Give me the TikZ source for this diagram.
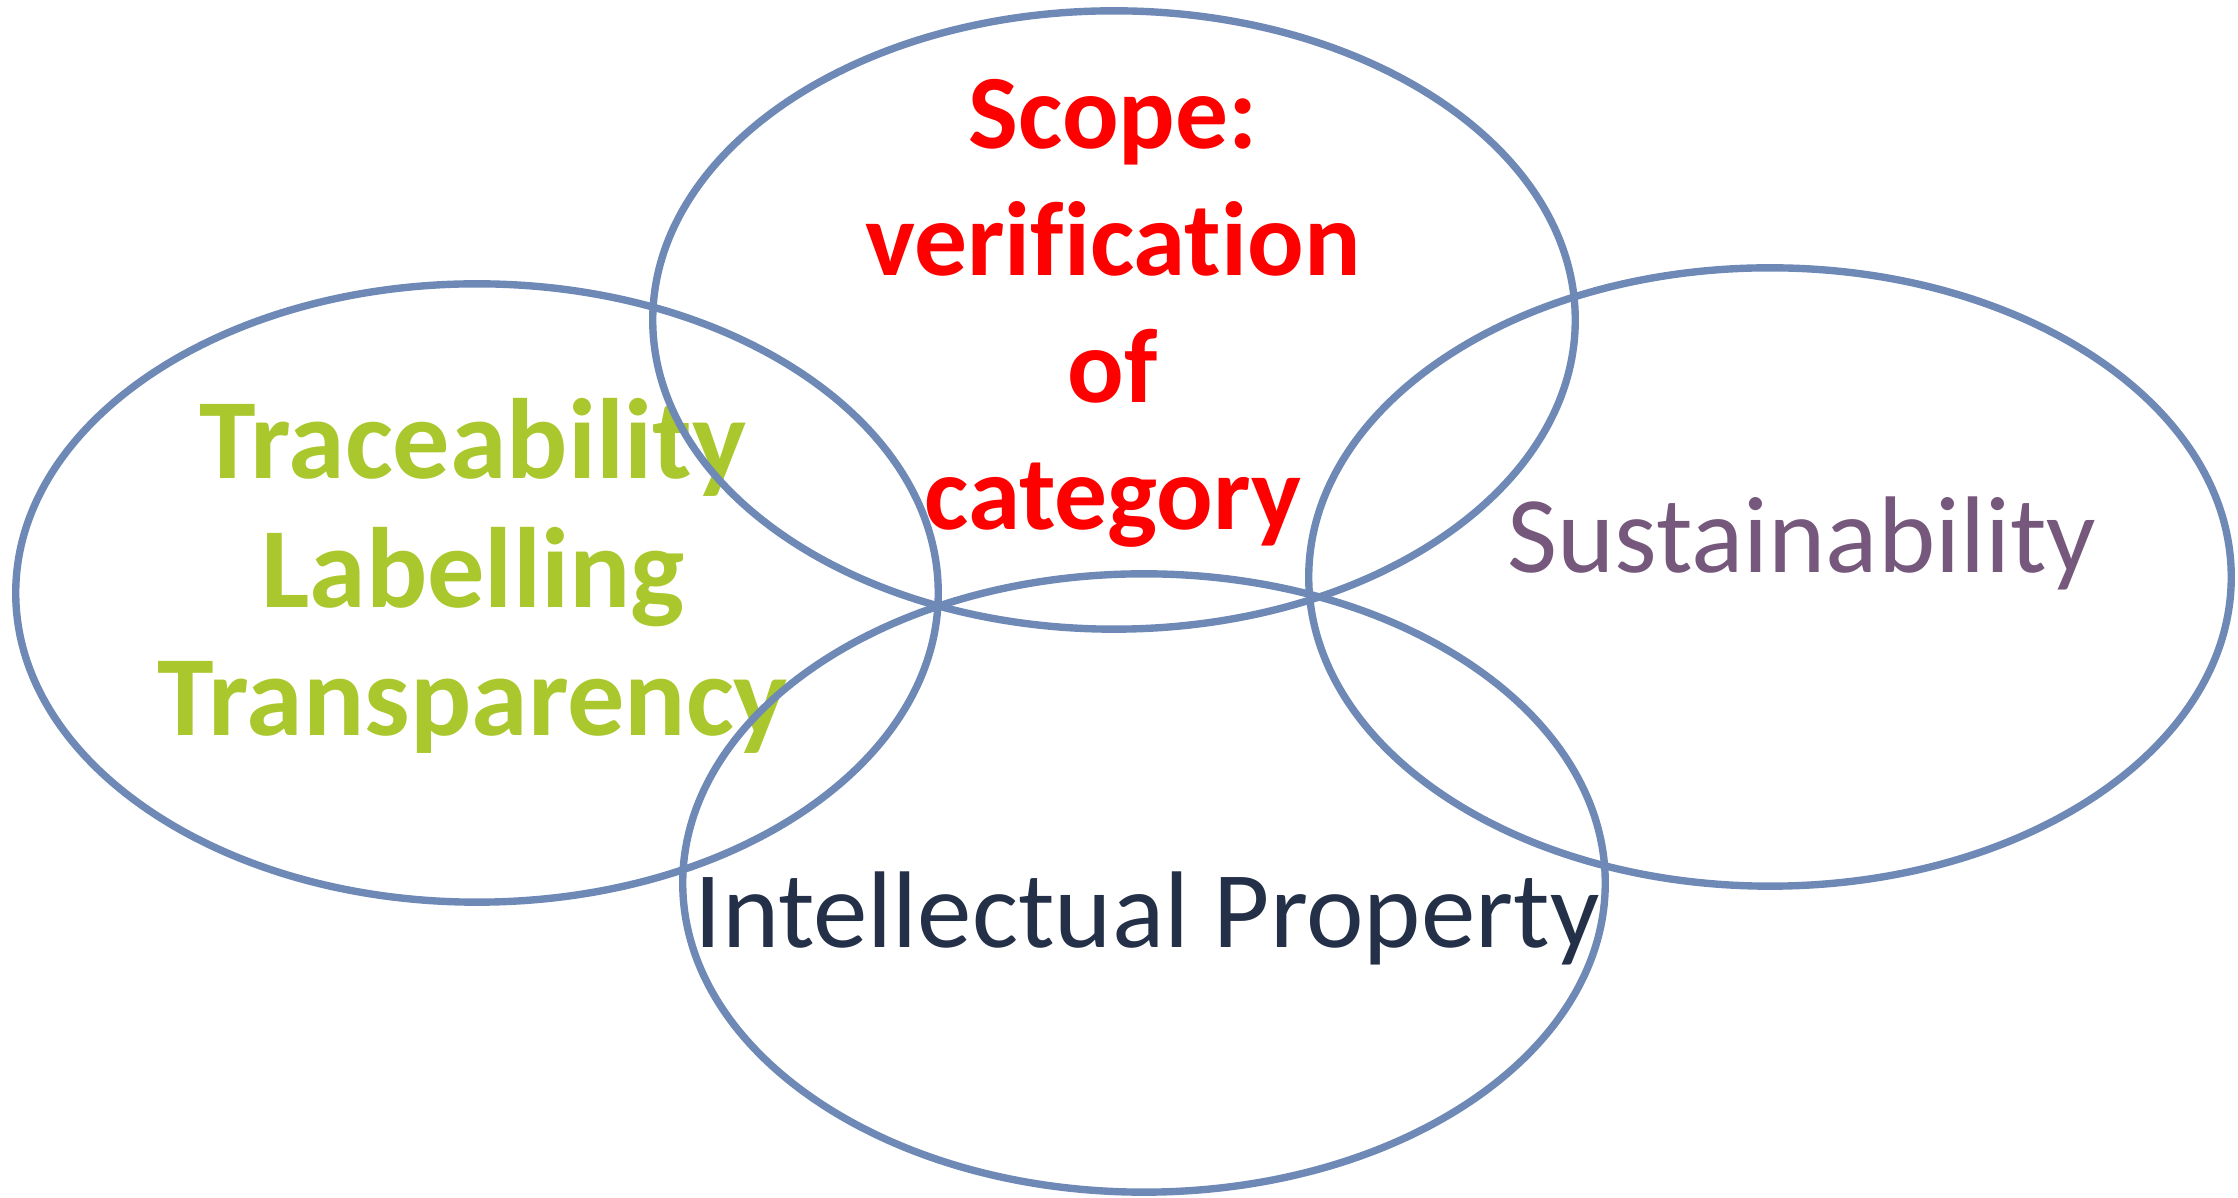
\documentclass[tikz,border=0pt]{standalone}
\usepackage{fontspec}
\setmainfont[Ligatures=NoCommon]{Carlito}
\usetikzlibrary{shapes.geometric}

\definecolor{ringblue}{RGB}{111,137,183}
\definecolor{leafgreen}{RGB}{170,200,45}
\definecolor{plum}{RGB}{118,88,125}
\definecolor{navy}{RGB}{35,48,72}

\begin{document}
\begin{tikzpicture}[
  x=0.01cm, y=-0.01cm,
  ring/.style = {ellipse, draw=ringblue, line width=2.1pt, minimum width=9.22cm, minimum height=6.18cm, inner sep=0pt},
  heading/.style = {inner sep=0pt, align=center}
  ]
  \useasboundingbox (0,0) rectangle (2238,1198);

  % Texte
  \node[heading, text=leafgreen, font={\fontsize{32.5}{36.6}\selectfont\bfseries}] (trace) at (473,576) {Traceability\\Labelling\\Transparency};
  \node[heading, text=red, font={\fontsize{30}{36.1}\selectfont\bfseries}] (scope) at (1113,313) {Scope:\\verification\\of\\category};
  \node[heading, anchor=base, text=plum, font={\fontsize{31}{37}\selectfont}] (sustain) at (1802,573) {Sustainability};
  \node[heading, anchor=base, text=navy, font={\fontsize{31}{36}\selectfont}] (ip) at (1147,948) {Intellectual Property};

  % Ellipses
  \node[ring] (left) at (477,593) {};
  \node[ring] (top) at (1114,320) {};
  \node[ring] (right) at (1770,577) {};
  \node[ring] (bottom) at (1144,883) {};

\end{tikzpicture}
\end{document}
